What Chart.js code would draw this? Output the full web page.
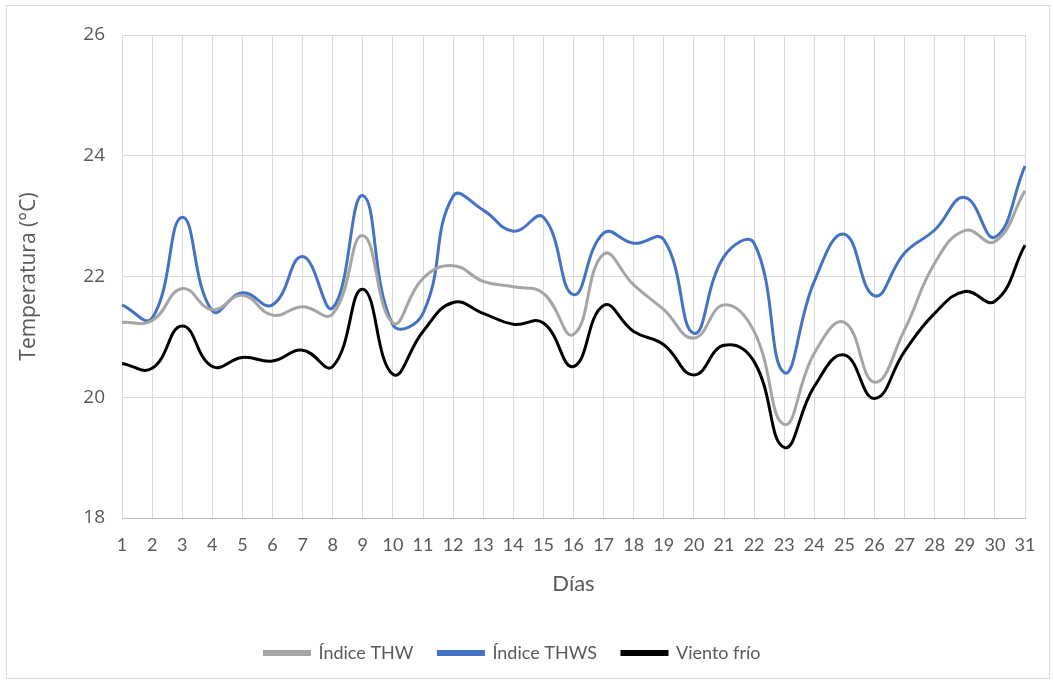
<!DOCTYPE html>
<html>
<head>
<meta charset="utf-8">
<script src="https://cdn.jsdelivr.net/npm/chart.js@4.4.1/dist/chart.umd.min.js"></script>
<style>
  html, body { margin: 0; padding: 0; background: #ffffff; }
  #wrap { position: absolute; left: 0; top: 0; width: 1054px; height: 683px; }
</style>
</head>
<body>
<div id="wrap"><canvas id="c" width="1054" height="683"></canvas></div>
<script>
const dias = ['1','2','3','4','5','6','7','8','9','10','11','12','13','14','15','16','17','18','19','20','21','22','23','24','25','26','27','28','29','30','31'];

const indiceTHW = [21.24, 21.27, 21.80, 21.45, 21.69, 21.36, 21.50, 21.38, 22.68, 21.23,
                   21.97, 22.18, 21.92, 21.83, 21.72, 21.04, 22.37, 21.86, 21.45, 20.98,
                   21.53, 21.09, 19.55, 20.73, 21.24, 20.25, 21.12, 22.22, 22.76, 22.58, 23.42];

const indiceTHWS = [21.53, 21.31, 22.98, 21.43, 21.73, 21.53, 22.33, 21.48, 23.34, 21.20,
                    21.39, 23.33, 23.10, 22.75, 22.98, 21.70, 22.72, 22.55, 22.61, 21.06,
                    22.33, 22.55, 20.41, 21.92, 22.70, 21.68, 22.39, 22.77, 23.31, 22.65, 23.83];

const vientoFrio = [20.56, 20.48, 21.18, 20.51, 20.66, 20.60, 20.78, 20.51, 21.79, 20.38,
                    21.09, 21.57, 21.39, 21.21, 21.23, 20.51, 21.52, 21.09, 20.87, 20.37,
                    20.86, 20.59, 19.17, 20.18, 20.70, 19.98, 20.76, 21.39, 21.75, 21.59, 22.52];

const seriesNames = ['Índice THW', 'Índice THWS', 'Viento frío'];
const yTicks = { min: 18, max: 26, step: 2 };

const NARROW = 'Lato, "Liberation Sans", sans-serif';
const WIDE = '"Open Sans", "Noto Sans", sans-serif';
const TXT = '#595959';

const framePlugin = {
  id: 'frame',
  beforeDraw(chart) {
    const ctx = chart.ctx;
    ctx.save();
    ctx.fillStyle = '#ffffff';
    ctx.fillRect(0, 0, chart.width, chart.height);
    ctx.strokeStyle = '#d9d9d9';
    ctx.lineWidth = 1;
    ctx.strokeRect(6.5, 5.5, 1043, 673);
    ctx.restore();
  }
};

function mk(label, data, color) {
  return {
    label, data,
    borderColor: color,
    backgroundColor: color,
    borderWidth: 3,
    pointRadius: 0,
    pointHoverRadius: 0,
    tension: 0.45,
    fill: false
  };
}

new Chart(document.getElementById('c'), {
  type: 'line',
  data: {
    labels: dias,
    datasets: [
      mk(seriesNames[0], indiceTHW, '#a5a5a5'),
      mk(seriesNames[1], indiceTHWS, '#4472c4'),
      mk(seriesNames[2], vientoFrio, '#000000')
    ]
  },
  options: {
    responsive: false,
    animation: false,
    devicePixelRatio: 1,
    layout: { padding: { left: 0, right: 29, top: 35, bottom: 11 } },
    plugins: {
      legend: {
        position: 'bottom',
        labels: {
          font: { family: NARROW, size: 18 },
          color: TXT,
          boxWidth: 45,
          boxHeight: 3,
          padding: 25
        }
      },
      tooltip: { enabled: false }
    },
    scales: {
      x: {
        type: 'category',
        offset: false,
        grid: { color: '#d9d9d9', lineWidth: 1, drawTicks: false },
        border: { color: '#bfbfbf' },
        ticks: {
          font: { family: NARROW, size: 18 },
          color: TXT,
          padding: 16,
          maxRotation: 0,
          autoSkip: false
        },
        title: {
          display: true,
          text: 'Días',
          font: { family: NARROW, size: 22 },
          color: TXT,
          padding: { top: 0, bottom: 22 }
        },
        afterFit(scale) { scale.height = 101; }
      },
      y: {
        min: yTicks.min,
        max: yTicks.max,
        grid: { color: '#d9d9d9', lineWidth: 1, drawTicks: false },
        border: { display: false },
        ticks: {
          stepSize: yTicks.step,
          font: { family: WIDE, size: 19 },
          color: TXT,
          padding: 17
        },
        title: {
          display: true,
          text: 'Temperatura (°C)',
          font: { family: WIDE, size: 21 },
          color: TXT,
          padding: { top: 16, bottom: 0 }
        },
        afterFit(scale) { scale.width = 122; }
      }
    }
  },
  plugins: [framePlugin]
});
</script>
</body>
</html>
